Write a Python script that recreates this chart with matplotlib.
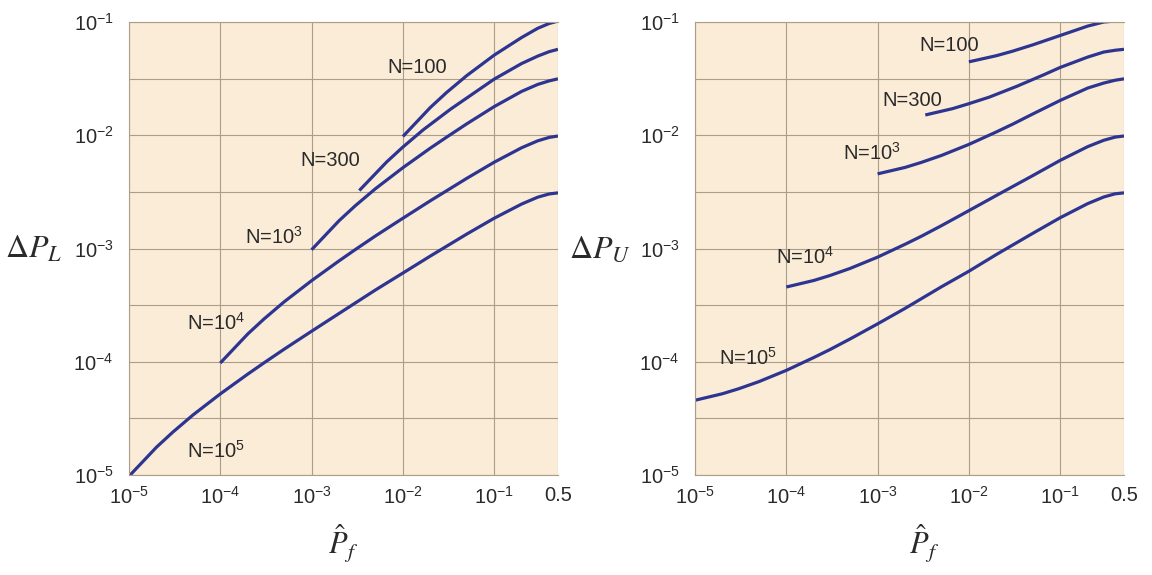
import matplotlib
matplotlib.use("Agg")
import matplotlib.pyplot as plt
from matplotlib.ticker import FixedLocator, FixedFormatter, NullFormatter

plt.rcParams["font.family"] = ["Liberation Sans", "DejaVu Sans"]
plt.rcParams["mathtext.fontset"] = "custom"
plt.rcParams["mathtext.rm"] = "Liberation Sans"
plt.rcParams["mathtext.it"] = "Liberation Sans:italic"
plt.rcParams["mathtext.bf"] = "Liberation Sans:bold"

# ---- data: estimated probability P_f and half-widths of the 95% interval ----
p_n100 = [0.01, 0.02, 0.03, 0.05, 0.1, 0.2, 0.3, 0.4, 0.5]
dl_n100 = [0.00975, 0.0176, 0.0238, 0.0336, 0.051, 0.073, 0.088, 0.097, 0.102]
du_n100 = [0.0445, 0.0504, 0.0552, 0.0628, 0.076, 0.092, 0.100, 0.102, 0.102]

p_n300 = [0.00333, 0.00667, 0.01, 0.0167, 0.0333, 0.0667, 0.1, 0.2, 0.3, 0.4, 0.5]
dl_n300 = [0.00325, 0.00583, 0.00787, 0.01117, 0.0170, 0.0250, 0.0313, 0.0430, 0.0500, 0.0547, 0.0574]
du_n300 = [0.0151, 0.0172, 0.0190, 0.0217, 0.0270, 0.0343, 0.0397, 0.0490, 0.0543, 0.0563, 0.0574]

p_n1e3 = [1e-3, 2e-3, 3e-3, 5e-3, 1e-2, 2e-2, 3e-2, 5e-2, 0.1, 0.2, 0.3, 0.4, 0.5]
dl_n1e3 = [9.75e-4, 1.76e-3, 2.38e-3, 3.37e-3, 5.17e-3, 7.7e-3, 9.6e-3, 1.26e-2, 1.79e-2, 2.44e-2, 2.81e-2, 3.02e-2, 3.15e-2]
du_n1e3 = [4.56e-3, 5.2e-3, 5.75e-3, 6.63e-3, 8.3e-3, 1.07e-2, 1.25e-2, 1.54e-2, 2.03e-2, 2.61e-2, 2.89e-2, 3.06e-2, 3.15e-2]

p_n1e4 = [1e-4, 2e-4, 3e-4, 5e-4, 1e-3, 2e-3, 3e-3, 5e-3, 1e-2, 2e-2, 5e-2, 0.1, 0.2, 0.3, 0.4, 0.5]
dl_n1e4 = [9.75e-5, 1.76e-4, 2.38e-4, 3.38e-4, 5.2e-4, 7.78e-4, 9.76e-4, 1.29e-3, 1.85e-3, 2.64e-3, 4.16e-3, 5.78e-3, 7.76e-3, 8.93e-3, 9.57e-3, 9.85e-3]
du_n1e4 = [4.57e-4, 5.22e-4, 5.77e-4, 6.67e-4, 8.39e-4, 1.09e-3, 1.28e-3, 1.59e-3, 2.16e-3, 2.94e-3, 4.40e-3, 6.0e-3, 7.93e-3, 9.03e-3, 9.63e-3, 9.85e-3]

p_n1e5 = [1e-5, 2e-5, 3e-5, 5e-5, 1e-4, 2e-4, 3e-4, 5e-4, 1e-3, 2e-3, 5e-3, 1e-2, 2e-2, 5e-2, 0.1, 0.2, 0.3, 0.4, 0.5]
dl_n1e5 = [9.75e-6, 1.76e-5, 2.38e-5, 3.38e-5, 5.2e-5, 7.78e-5, 9.76e-5, 1.29e-4, 1.86e-4, 2.67e-4, 4.30e-4, 6.07e-4, 8.58e-4, 1.34e-3, 1.85e-3, 2.47e-3, 2.84e-3, 3.03e-3, 3.10e-3]
du_n1e5 = [4.57e-5, 5.22e-5, 5.77e-5, 6.67e-5, 8.39e-5, 1.09e-4, 1.28e-4, 1.59e-4, 2.16e-4, 2.96e-4, 4.59e-4, 6.30e-4, 8.85e-4, 1.36e-3, 1.87e-3, 2.49e-3, 2.85e-3, 3.04e-3, 3.10e-3]

curve_labels = ["N=100", "N=300", r"N=$\mathregular{10^3}$", r"N=$\mathregular{10^4}$", r"N=$\mathregular{10^5}$"]

x_ticks = [1e-5, 1e-4, 1e-3, 1e-2, 1e-1, 0.5]
x_ticklabels = [r"$\mathregular{10^{-5}}$", r"$\mathregular{10^{-4}}$", r"$\mathregular{10^{-3}}$",
                r"$\mathregular{10^{-2}}$", r"$\mathregular{10^{-1}}$", "0.5"]
y_ticks = [1e-5, 1e-4, 1e-3, 1e-2, 1e-1]
y_ticklabels = [r"$\mathregular{10^{-5}}$", r"$\mathregular{10^{-4}}$", r"$\mathregular{10^{-3}}$",
                r"$\mathregular{10^{-2}}$", r"$\mathregular{10^{-1}}$"]
y_half_decades = [3.162e-5, 3.162e-4, 3.162e-3, 3.162e-2]

# label anchors (left edge, vertical centre) for each curve
lower_label_pos = [(6.75e-3, 0.0393), (7.5e-4, 5.93e-3), (1.87e-4, 1.26e-3), (4.33e-5, 2.2e-4), (4.33e-5, 1.64e-5)]
upper_label_pos = [(2.86e-3, 0.0614), (1.12e-3, 0.0201), (4.2e-4, 6.98e-3), (7.7e-5, 8.4e-4), (1.83e-5, 1.08e-4)]

# ---- styling ----
LINE = "#2d3590"
FACE = "#fbecd7"
GRID = "#ab9d88"
TEXT = "#2a2a2a"

fig = plt.figure(figsize=(11.52, 5.75), dpi=100)
fig.patch.set_facecolor("white")

ax_l = fig.add_axes([129 / 1152, 1 - 475 / 575, (558 - 129) / 1152, (475 - 22) / 575])
ax_u = fig.add_axes([695 / 1152, 1 - 475 / 575, (1124 - 695) / 1152, (475 - 22) / 575])


def style(ax):
    ax.set_xscale("log")
    ax.set_yscale("log")
    ax.set_xlim(1e-5, 0.5)
    ax.set_ylim(1e-5, 1e-1)
    ax.set_facecolor(FACE)
    ax.xaxis.set_major_locator(FixedLocator(x_ticks))
    ax.xaxis.set_major_formatter(FixedFormatter(x_ticklabels))
    ax.xaxis.set_minor_locator(FixedLocator([]))
    ax.yaxis.set_major_locator(FixedLocator(y_ticks))
    ax.yaxis.set_major_formatter(FixedFormatter(y_ticklabels))
    ax.yaxis.set_minor_locator(FixedLocator(y_half_decades))
    ax.yaxis.set_minor_formatter(NullFormatter())
    ax.tick_params(which="both", length=0, labelsize=14.5, labelcolor=TEXT)
    ax.tick_params(axis="x", pad=8)
    ax.tick_params(axis="y", pad=11)
    ax.grid(True, which="major", axis="x", color=GRID, lw=0.8)
    ax.grid(True, which="both", axis="y", color=GRID, lw=0.8)
    ax.set_axisbelow(True)
    for s in ax.spines.values():
        s.set_color(GRID)
        s.set_linewidth(0.8)
    ax.spines["right"].set_visible(False)


style(ax_l)
style(ax_u)

ax_l.set_xlabel(r"$\hat{P}_f$", math_fontfamily="stix", fontsize=22, color=TEXT)
ax_u.set_xlabel(r"$\hat{P}_f$", math_fontfamily="stix", fontsize=22, color=TEXT)
ax_l.xaxis.set_label_coords(0.5, -0.105)
ax_u.xaxis.set_label_coords(0.535, -0.105)

series_l = [(p_n100, dl_n100), (p_n300, dl_n300), (p_n1e3, dl_n1e3), (p_n1e4, dl_n1e4), (p_n1e5, dl_n1e5)]
series_u = [(p_n100, du_n100), (p_n300, du_n300), (p_n1e3, du_n1e3), (p_n1e4, du_n1e4), (p_n1e5, du_n1e5)]

for (p, d) in series_l:
    ax_l.plot(p, d, color=LINE, lw=2.3, solid_capstyle="butt")
for (p, d) in series_u:
    ax_u.plot(p, d, color=LINE, lw=2.3, solid_capstyle="butt")

for lab, (x, y) in zip(curve_labels, lower_label_pos):
    ax_l.text(x, y, lab, fontsize=14.5, color=TEXT, ha="left", va="center")
for lab, (x, y) in zip(curve_labels, upper_label_pos):
    ax_u.text(x, y, lab, fontsize=14.5, color=TEXT, ha="left", va="center")

fig.text(34 / 1152, 1 - 250 / 575, r"$\Delta P_L$", math_fontfamily="stix", fontsize=23,
         color=TEXT, ha="center", va="center")
fig.text(600 / 1152, 1 - 250 / 575, r"$\Delta P_U$", math_fontfamily="stix", fontsize=23,
         color=TEXT, ha="center", va="center")

fig.savefig("out.png", dpi=100, facecolor="white")
